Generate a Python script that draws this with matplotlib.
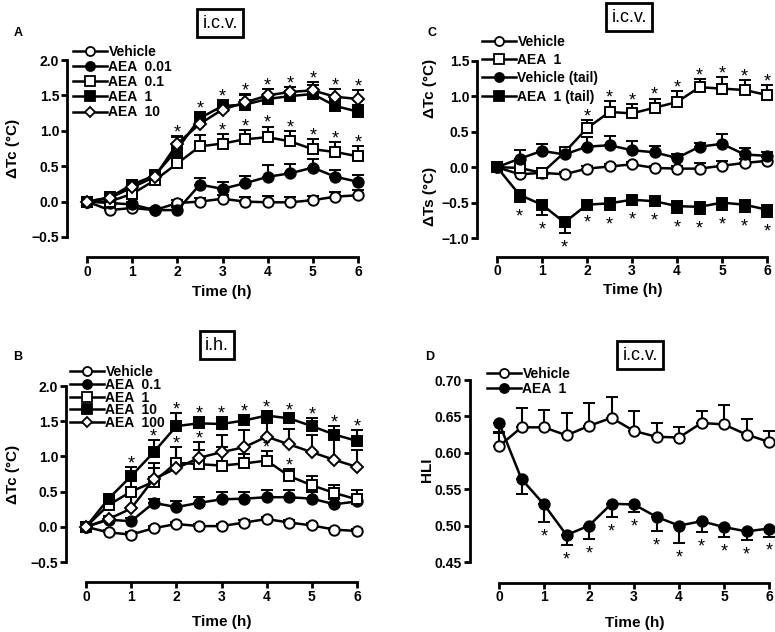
import numpy as np
import matplotlib
matplotlib.use("Agg")
import matplotlib.pyplot as plt
from matplotlib.lines import Line2D

plt.rcParams["font.family"] = ["Liberation Sans", "DejaVu Sans"]
plt.rcParams["font.weight"] = "bold"

t = [0, 0.5, 1, 1.5, 2, 2.5, 3, 3.5, 4, 4.5, 5, 5.5, 6]

# Panel A: i.c.v., delta Tc
a_labels = ["Vehicle", "AEA  0.01", "AEA  0.1", "AEA  1", "AEA  10"]
a_veh = [0, -0.12, -0.09, -0.12, -0.02, 0.0, 0.04, 0.0, -0.01, -0.01, 0.02, 0.07, 0.09]
a_veh_err = [0, 0.03, 0.03, 0.03, 0.04, 0.05, 0.06, 0.07, 0.09, 0.07, 0.06, 0.07, 0.07]
a_001 = [0, -0.02, -0.04, -0.12, -0.12, 0.24, 0.18, 0.26, 0.35, 0.40, 0.48, 0.35, 0.28]
a_001_err = [0, 0.03, 0.03, 0.03, 0.04, 0.10, 0.09, 0.10, 0.16, 0.13, 0.12, 0.09, 0.10]
a_01 = [0, 0.0, 0.11, 0.30, 0.54, 0.78, 0.82, 0.88, 0.91, 0.85, 0.74, 0.70, 0.64]
a_01_err = [0, 0.03, 0.05, 0.08, 0.10, 0.16, 0.14, 0.13, 0.15, 0.15, 0.14, 0.14, 0.15]
a_1 = [0, 0.06, 0.24, 0.37, 0.74, 1.18, 1.35, 1.37, 1.45, 1.49, 1.52, 1.35, 1.27]
a_1_err = [0, 0.03, 0.05, 0.08, 0.17, 0.08, 0.09, 0.15, 0.14, 0.13, 0.17, 0.10, 0.10]
a_10 = [0, 0.05, 0.20, 0.35, 0.82, 1.10, 1.30, 1.40, 1.50, 1.55, 1.57, 1.48, 1.45]
a_10_err = [0, 0.03, 0.05, 0.08, 0.10, 0.10, 0.08, 0.10, 0.09, 0.07, 0.08, 0.11, 0.12]
a_stars_top = [2, 2.5, 3, 3.5, 4, 4.5, 5, 5.5, 6]
a_stars_01 = [3, 3.5, 4, 4.5, 5, 5.5, 6]

# Panel B: i.h., delta Tc
b_labels = ["Vehicle", "AEA  0.1", "AEA  1", "AEA  10", "AEA  100"]
b_veh = [0, -0.08, -0.11, -0.02, 0.04, 0.01, 0.01, 0.06, 0.11, 0.06, 0.02, -0.04, -0.06]
b_veh_err = [0, 0.03, 0.03, 0.03, 0.03, 0.03, 0.03, 0.03, 0.03, 0.03, 0.03, 0.03, 0.03]
b_01 = [0, 0.10, 0.08, 0.34, 0.28, 0.34, 0.39, 0.40, 0.42, 0.42, 0.40, 0.32, 0.36]
b_01_err = [0, 0.04, 0.05, 0.06, 0.08, 0.09, 0.10, 0.10, 0.10, 0.10, 0.09, 0.08, 0.08]
b_1 = [0, 0.31, 0.50, 0.64, 0.91, 0.89, 0.87, 0.90, 0.94, 0.72, 0.59, 0.48, 0.39]
b_1_err = [0, 0.05, 0.18, 0.20, 0.22, 0.20, 0.27, 0.14, 0.13, 0.10, 0.13, 0.12, 0.13]
b_10 = [0, 0.40, 0.72, 1.06, 1.43, 1.47, 1.46, 1.51, 1.58, 1.54, 1.43, 1.31, 1.22]
b_10_err = [0, 0.05, 0.13, 0.17, 0.18, 0.09, 0.10, 0.08, 0.07, 0.06, 0.11, 0.12, 0.15]
b_100 = [0, 0.11, 0.26, 0.68, 0.83, 0.98, 1.06, 1.13, 1.28, 1.17, 1.06, 0.95, 0.85]
b_100_err = [0, 0.04, 0.20, 0.22, 0.30, 0.22, 0.24, 0.24, 0.20, 0.22, 0.24, 0.37, 0.24]
b_stars_10 = [1, 1.5, 2, 2.5, 3, 3.5, 4, 4.5, 5, 5.5, 6]
b_stars_100 = [2, 2.5, 3]
b_stars_1 = [4, 4.5]

# Panel C: i.c.v., delta Tc and delta Ts (tail)
c_labels = ["Vehicle", "AEA  1", "Vehicle (tail)", "AEA  1 (tail)"]
c_veh = [0, -0.10, -0.08, -0.10, -0.02, 0.01, 0.04, -0.01, -0.02, -0.02, 0.02, 0.06, 0.09]
c_veh_err = [0, 0.03, 0.03, 0.03, 0.03, 0.03, 0.03, 0.03, 0.04, 0.08, 0.07, 0.06, 0.05]
c_aea = [0, -0.01, -0.08, 0.21, 0.55, 0.78, 0.76, 0.84, 0.92, 1.13, 1.11, 1.09, 1.02]
c_aea_err = [0, 0.03, 0.03, 0.05, 0.12, 0.16, 0.13, 0.13, 0.16, 0.12, 0.16, 0.14, 0.14]
c_vtail = [0, 0.12, 0.23, 0.18, 0.29, 0.31, 0.24, 0.21, 0.13, 0.29, 0.33, 0.18, 0.16]
c_vtail_err = [0, 0.12, 0.10, 0.06, 0.13, 0.13, 0.13, 0.09, 0.05, 0.05, 0.14, 0.09, 0.05]
c_atail = [0, -0.39, -0.53, -0.78, -0.53, -0.51, -0.46, -0.48, -0.55, -0.56, -0.50, -0.53, -0.60]
c_atail_err = [0, 0.10, 0.14, 0.15, 0.05, 0.10, 0.07, 0.07, 0.10, 0.10, 0.10, 0.10, 0.10]
c_stars_aea = [2, 2.5, 3, 3.5, 4, 4.5, 5, 5.5, 6]
c_stars_tail = [0.5, 1, 1.5, 2, 2.5, 3, 3.5, 4, 4.5, 5, 5.5, 6]

# Panel D: i.c.v., HLI
d_labels = ["Vehicle", "AEA  1"]
d_veh = [0.609, 0.635, 0.635, 0.624, 0.637, 0.648, 0.630, 0.622, 0.621, 0.641, 0.639, 0.625, 0.615]
d_veh_err = [0.018, 0.026, 0.024, 0.030, 0.031, 0.028, 0.027, 0.019, 0.015, 0.017, 0.026, 0.021, 0.015]
d_aea = [0.641, 0.564, 0.529, 0.487, 0.500, 0.530, 0.529, 0.512, 0.500, 0.506, 0.498, 0.492, 0.496]
d_aea_err = [0.012, 0.021, 0.024, 0.014, 0.018, 0.018, 0.010, 0.019, 0.024, 0.015, 0.014, 0.012, 0.011]
d_stars = [1, 1.5, 2, 2.5, 3, 3.5, 4, 4.5, 5, 5.5, 6]

STYLES = {
    "oc": ("o", "white"),
    "fc": ("o", "black"),
    "os": ("s", "white"),
    "fs": ("s", "black"),
    "od": ("D", "white"),
}

W, H = 775, 632
fig = plt.figure(figsize=(W / 100, H / 100), dpi=100)


def px(x, y):
    return x / W, 1 - y / H


def make_ax(left, top, right, bottom, xoff, yoff):
    l, b = px(left, bottom)
    r, tp = px(right, top)
    ax = fig.add_axes([l, b, r - l, tp - b])
    for s in ["top", "right"]:
        ax.spines[s].set_visible(False)
    ax.spines["left"].set_position(("outward", yoff))
    ax.spines["bottom"].set_position(("outward", xoff))
    ax.spines["left"].set_linewidth(2)
    ax.spines["bottom"].set_linewidth(2)
    ax.tick_params(width=2, length=4, labelsize=10, pad=1.5)
    ax.set_xlim(0, 6)
    ax.set_xticks(range(7))
    ax.patch.set_visible(False)
    return ax


def series(ax, y, err, style, down=False):
    m, fc = STYLES[style]
    z = np.zeros(len(err))
    yerr = [err, z] if down else [z, err]
    ms = 6.5 if m == "D" else 7.5
    ax.errorbar(t, y, yerr=yerr, fmt="-", marker=m, color="black", mfc=fc,
                mec="black", ms=ms, mew=1.4, lw=1.8, elinewidth=1.5,
                capsize=4.5, capthick=1.5, clip_on=False)


def stars(ax, times, tops, down=False):
    for x in times:
        i = t.index(x)
        off = -14 if down else -1
        ax.annotate("*", (x, tops[i]), xytext=(0, off), textcoords="offset points",
                    ha="center", va="baseline", fontsize=13, fontweight="normal",
                    annotation_clip=False)


def legend(ax, labels, styles, x, y, spacing):
    handles = []
    for s in styles:
        m, fc = STYLES[s]
        handles.append(Line2D([], [], color="black", lw=1.8, marker=m, mfc=fc,
                              mec="black", ms=5.5 if m == "D" else 6.5, mew=1.3))
    lx, ly = px(x, y)
    ax.legend(handles, labels, loc="upper left", bbox_to_anchor=(lx, ly),
              bbox_transform=fig.transFigure, frameon=False, fontsize=10,
              handlelength=2.45, handletextpad=0.1, labelspacing=spacing,
              borderpad=0, borderaxespad=0)


def boxed(x, y, s):
    fx, fy = px(x, y)
    fig.text(fx, fy, s, ha="center", va="center", fontsize=13, fontweight="normal",
             bbox=dict(boxstyle="square,pad=0.3", fc="white", ec="black", lw=2))


def tops(y, e):
    return [a + b for a, b in zip(y, e)]


def bots(y, e):
    return [a - b for a, b in zip(y, e)]


# ---- Panel A
axA = make_ax(87, 60, 358, 237, 14.5, 14.5)
axA.set_ylim(-0.5, 2.0)
axA.set_yticks([-0.5, 0.0, 0.5, 1.0, 1.5, 2.0])
axA.set_yticklabels(["\u22120.5", "0.0", "0.5", "1.0", "1.5", "2.0"])
series(axA, a_veh, a_veh_err, "oc")
series(axA, a_001, a_001_err, "fc")
series(axA, a_01, a_01_err, "os")
series(axA, a_1, a_1_err, "fs")
series(axA, a_10, a_10_err, "od")
top_a = [max(p, q) for p, q in zip(tops(a_1, a_1_err), tops(a_10, a_10_err))]
stars(axA, a_stars_top, top_a)
stars(axA, a_stars_01, tops(a_01, a_01_err))
legend(axA, a_labels, ["oc", "fc", "os", "fs", "od"], 73, 45, 0.08)

# ---- Panel B
axB = make_ax(86, 386, 357, 562, 14.5, 14.5)
axB.set_ylim(-0.5, 2.0)
axB.set_yticks([-0.5, 0.0, 0.5, 1.0, 1.5, 2.0])
axB.set_yticklabels(["\u22120.5", "0.0", "0.5", "1.0", "1.5", "2.0"])
series(axB, b_veh, b_veh_err, "oc")
series(axB, b_01, b_01_err, "fc")
series(axB, b_1, b_1_err, "os")
series(axB, b_10, b_10_err, "fs")
series(axB, b_100, b_100_err, "od")
stars(axB, b_stars_10, tops(b_10, b_10_err))
stars(axB, b_stars_100, tops(b_100, b_100_err))
stars(axB, b_stars_1, tops(b_1, b_1_err))
legend(axB, b_labels, ["oc", "fc", "os", "fs", "od"], 70, 365, -0.09)

# ---- Panel C
axC = make_ax(497, 61, 767, 238, 13.5, 14.5)
axC.set_ylim(-1.0, 1.5)
axC.set_yticks([-1.0, -0.5, 0.0, 0.5, 1.0, 1.5])
axC.set_yticklabels(["\u22121.0", "\u22120.5", "0.0", "0.5", "1.0", "1.5"])
series(axC, c_veh, c_veh_err, "oc")
series(axC, c_aea, c_aea_err, "os")
series(axC, c_vtail, c_vtail_err, "fc")
series(axC, c_atail, c_atail_err, "fs", down=True)
stars(axC, c_stars_aea, tops(c_aea, c_aea_err))
stars(axC, c_stars_tail, bots(c_atail, c_atail_err), down=True)
legend(axC, c_labels, ["oc", "os", "fc", "fs"], 482, 35, 0.3)

# ---- Panel D
axD = make_ax(499, 380, 769, 562, 15, 21)
axD.set_ylim(0.45, 0.70)
axD.set_yticks([0.45, 0.50, 0.55, 0.60, 0.65, 0.70])
axD.set_yticklabels(["0.45", "0.50", "0.55", "0.60", "0.65", "0.70"])
series(axD, d_veh, d_veh_err, "oc")
series(axD, d_aea, d_aea_err, "fc", down=True)
stars(axD, d_stars, bots(d_aea, d_aea_err), down=True)
legend(axD, d_labels, ["oc", "fc"], 487, 367, 0.08)

# axis labels and panel letters
for (x, y) in [(222, 292), (222, 622), (633, 290), (635, 623)]:
    fx, fy = px(x, y)
    fig.text(fx, fy, "Time (h)", ha="center", va="center", fontsize=11)
for (x, y, s) in [(13, 148, "\u0394Tc (\u00b0C)"), (13, 474, "\u0394Tc (\u00b0C)"),
                  (430, 88, "\u0394Tc (\u00b0C)"), (430, 196, "\u0394Ts (\u00b0C)"),
                  (427, 470, "HLI")]:
    fx, fy = px(x, y)
    fig.text(fx, fy, s, ha="center", va="center", fontsize=11, rotation=90)
for (x, y, s) in [(18, 33, "A"), (18, 357, "B"), (432, 33, "C"), (430, 357, "D")]:
    fx, fy = px(x, y)
    fig.text(fx, fy, s, ha="center", va="center", fontsize=9)

boxed(220, 23, "i.c.v.")
boxed(217, 345, "i.h.")
boxed(629, 17, "i.c.v.")
boxed(640, 355, "i.c.v.")

fig.savefig("out.png", dpi=100)
